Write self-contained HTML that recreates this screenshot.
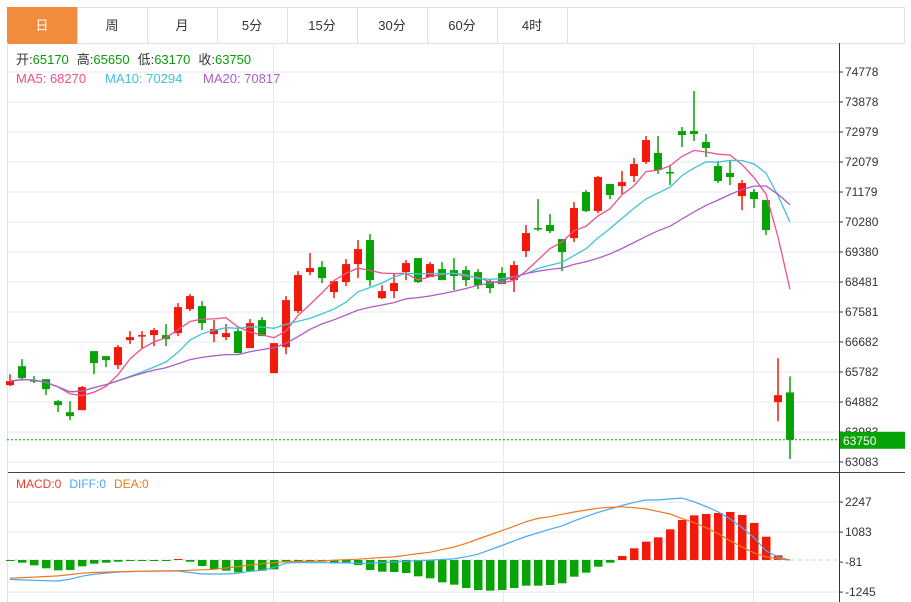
<!DOCTYPE html>
<html><head><meta charset="utf-8">
<style>
body{margin:0;background:#fff;width:911px;height:602px;overflow:hidden;font-family:"Liberation Sans","Noto Sans CJK SC",sans-serif;}
svg{display:block}
</style></head>
<body>
<svg id="chart" width="911" height="602" xmlns="http://www.w3.org/2000/svg" font-family="Liberation Sans, Noto Sans CJK SC, sans-serif">
  <g>
    <rect x="7.5" y="7.5" width="897" height="36" fill="#fff" stroke="#dde3e8"/>
    <g><rect x="7.5" y="7.5" width="70" height="36" fill="#f28c3c" stroke="#f28c3c"/><text x="42" y="30" text-anchor="middle" font-size="13" fill="#fff">日</text></g>
    <g><rect x="77.5" y="7.5" width="70" height="36" fill="#fff" stroke="#dde3e8"/><text x="112" y="30" text-anchor="middle" font-size="13" fill="#333">周</text></g>
    <g><rect x="147.5" y="7.5" width="70" height="36" fill="#fff" stroke="#dde3e8"/><text x="182" y="30" text-anchor="middle" font-size="13" fill="#333">月</text></g>
    <g><rect x="217.5" y="7.5" width="70" height="36" fill="#fff" stroke="#dde3e8"/><text x="252" y="30" text-anchor="middle" font-size="13" fill="#333">5分</text></g>
    <g><rect x="287.5" y="7.5" width="70" height="36" fill="#fff" stroke="#dde3e8"/><text x="322" y="30" text-anchor="middle" font-size="13" fill="#333">15分</text></g>
    <g><rect x="357.5" y="7.5" width="70" height="36" fill="#fff" stroke="#dde3e8"/><text x="392" y="30" text-anchor="middle" font-size="13" fill="#333">30分</text></g>
    <g><rect x="427.5" y="7.5" width="70" height="36" fill="#fff" stroke="#dde3e8"/><text x="462" y="30" text-anchor="middle" font-size="13" fill="#333">60分</text></g>
    <g><rect x="497.5" y="7.5" width="70" height="36" fill="#fff" stroke="#dde3e8"/><text x="532" y="30" text-anchor="middle" font-size="13" fill="#333">4时</text></g>
  </g>
  <g id="grid"></g>
  <g id="marks"></g>
  <g id="axis"></g>
  <g font-size="13">
    <text x="16" y="64"><tspan fill="#333">开:</tspan><tspan fill="#0a9a0a">65170</tspan><tspan fill="#333" dx="8">高:</tspan><tspan fill="#0a9a0a">65650</tspan><tspan fill="#333" dx="8">低:</tspan><tspan fill="#0a9a0a">63170</tspan><tspan fill="#333" dx="8">收:</tspan><tspan fill="#0a9a0a">63750</tspan></text>
  </g>
  <g font-size="13">
    <text x="16" y="83" fill="#f0508c">MA5: 68270</text>
    <text x="105" y="83" fill="#3fc4d8">MA10: 70294</text>
    <text x="203" y="83" fill="#b05cc8">MA20: 70817</text>
  </g>
  <g font-size="12">
    <text x="16" y="488"><tspan fill="#f03c28">MACD:0</tspan><tspan dx="8" fill="#4aa8f0">DIFF:0</tspan><tspan dx="8" fill="#f07820">DEA:0</tspan></text>
  </g>
</svg>
<script>
const opens  =[65388,65958,65538,65568,64908,64578,64638,66408,66258,65988,66738,66858,66888,66888,66948,67668,67758,66918,66828,67008,66498,67338,65748,66528,67608,68778,68928,68178,68478,69018,69738,67998,68208,68778,69198,68628,68868,68838,68838,68778,68508,68748,68538,69408,70098,70188,69768,69798,71178,70608,71418,71358,71658,72078,72348,71778,73008,73008,72678,71958,71748,71058,71178,70938,64878,65170];
const closes =[65508,65598,65508,65268,64788,64458,65328,66048,66138,66528,66828,66888,67038,66768,67728,68058,67248,67068,66948,66348,67248,66858,66648,67938,68688,68898,68598,68508,69018,69468,68538,68208,68448,69048,68478,69018,68538,68658,68538,68388,68298,68418,68988,69948,70068,70008,69378,70698,70608,71628,71088,71478,72018,72738,71838,71748,72888,72918,72498,71508,71628,71448,70968,70038,65088,63750];
const highs  =[65718,66168,65658,65568,64938,64908,65358,66408,66258,66588,67008,67008,67098,67218,67848,68118,67908,67338,67218,67098,67368,67428,66648,68058,68808,69348,69108,68508,69168,69738,69918,68388,68748,69138,69198,69078,69078,69198,68958,68868,68568,68928,69108,70188,70968,70518,69768,70878,71238,71658,71418,71808,72198,72858,72858,71988,73128,74208,72918,72108,72138,71538,71268,70938,66198,65650];
const lows   =[65358,65568,65448,65088,64578,64338,64638,65718,65928,65868,66618,66498,66558,66558,66858,67608,67038,66678,66738,66348,66498,66858,65748,66318,67548,68688,68448,67998,68358,68598,68358,67968,67998,68538,68448,68628,68538,68238,68358,68268,68148,68418,68178,69228,70008,69948,68808,69678,70578,70548,70968,71118,71478,72018,71718,71388,72528,72708,72228,71448,71388,70638,70698,69888,64308,63170];
const macdHist=[-39,-104,-207,-323,-401,-388,-246,-142,-104,-65,-39,-39,-26,-26,39,-65,-233,-349,-414,-478,-427,-414,-362,-78,-65,-65,-65,-129,-90,-194,-388,-453,-466,-505,-634,-711,-867,-957,-1086,-1164,-1190,-1164,-1086,-996,-996,-970,-905,-647,-491,-259,-104,155,453,711,879,1190,1552,1733,1785,1823,1862,1746,1436,905,181,0];
const diffVals=[-753,-772,-788,-803,-815,-745,-628,-555,-508,-466,-450,-435,-427,-427,-427,-485,-543,-543,-543,-512,-438,-399,-291,-116,-105,-105,-105,-109,-116,-124,-128,-97,-74,-54,-27,-4,19,47,124,225,396,563,741,912,1051,1195,1323,1517,1684,1847,1982,2114,2235,2328,2328,2371,2402,2258,2080,1870,1599,1261,869,357,116,0];
const deaVals=[-706,-683,-664,-640,-617,-566,-512,-485,-469,-454,-446,-438,-430,-423,-415,-400,-380,-361,-310,-256,-198,-144,-105,-66,-58,-50,-43,-8,12,31,66,97,120,182,248,299,404,504,644,815,978,1141,1308,1486,1614,1680,1773,1862,1936,2010,2041,2065,2029,1983,1886,1785,1607,1455,1254,1028,749,508,275,128,43,0];
const priceTicks=[74778,73878,72979,72079,71179,70280,69380,68481,67581,66682,65782,64882,63983,63083];
const macdTicks=[2247,1083,-81,-1245];
const lastPrice=63750;

const NS="http://www.w3.org/2000/svg";
const xOf=i=>10+12*i;
const yP=v=>72+(74778-v)/29.987;
const yM=v=>560-v/38.8;
function mk(tag,attrs,parent){const e=document.createElementNS(NS,tag);for(const k in attrs)e.setAttribute(k,attrs[k]);parent.appendChild(e);return e;}
const grid=document.getElementById('grid'),marks=document.getElementById('marks'),axis=document.getElementById('axis');
const GC="#e3ebf2";
priceTicks.forEach(t=>{const l=mk('line',{x1:7,x2:839,y1:yP(t),y2:yP(t),stroke:GC},grid);

});
[273,503,753].forEach(x=>{const l=mk('line',{x1:x+.5,x2:x+.5,y1:44,y2:472,stroke:GC},grid);

});
[273,503,753].forEach(x=>{const l=mk('line',{x1:x+.5,x2:x+.5,y1:473,y2:602,stroke:GC},grid);

});
macdTicks.forEach(t=>{if(t===-81)return;const l=mk('line',{x1:7,x2:839,y1:yM(t),y2:yM(t),stroke:GC},grid);

});
mk('line',{x1:7,x2:905,y1:472.5,y2:472.5,stroke:"#444"},grid);
mk('line',{x1:7.5,x2:7.5,y1:43,y2:602,stroke:"#dde3e8"},grid);
mk('line',{x1:7,x2:839,y1:560,y2:560,stroke:"#b8dce8","stroke-dasharray":"4,3"},grid);
for(let i=0;i<opens.length;i++){
  const up=closes[i]>=opens[i];const c=up?"#f21a0a":"#07a307";const x=xOf(i);
  const g=mk('g',{},marks);
  
  
  mk('line',{x1:x,x2:x,y1:yP(highs[i]),y2:yP(lows[i]),stroke:c,"stroke-width":1.5},g);
  const top=yP(Math.max(opens[i],closes[i])),bot=yP(Math.min(opens[i],closes[i]));
  mk('rect',{x:x-4,y:top,width:8,height:Math.max(1.5,bot-top),fill:c},g);
}
function ma(n){return closes.map((_,i)=>{const s=Math.max(0,i-n+1);let a=0;for(let k=s;k<=i;k++)a+=closes[k];return a/(i-s+1);});}
[[5,"#f0508c","ma5-line"],[10,"#3fc4d8","ma10-line"],[20,"#b05cc8","ma20-line"]].forEach(([n,c,name])=>{
  const m=ma(n);const p=mk('polyline',{points:m.map((v,i)=>xOf(i)+","+yP(v).toFixed(1)).join(" "),fill:"none",stroke:c,"stroke-width":1.3},marks);
  
  
});
const lp=mk('line',{x1:7,x2:839,y1:yP(lastPrice),y2:yP(lastPrice),stroke:"#07a307","stroke-dasharray":"2,2"},marks);


for(let i=0;i<macdHist.length;i++){
  const v=macdHist[i];if(v===0)continue;const y0=yM(0),y1=yM(v);
  const r=mk('rect',{x:xOf(i)-4,y:Math.min(y0,y1),width:8.5,height:Math.max(1,Math.abs(y1-y0)),fill:v>0?"#f21a0a":"#07a307"},marks);
  
  
}
[[diffVals,"#4aa8f0","diff-line"],[deaVals,"#f07820","dea-line"]].forEach(([arr,c,name])=>{
  const p=mk('polyline',{points:arr.map((v,i)=>xOf(i)+","+yM(v).toFixed(1)).join(" "),fill:"none",stroke:c,"stroke-width":1.2},marks);
  
  
});
mk('line',{x1:839.5,x2:839.5,y1:43,y2:602,stroke:"#333"},axis);
priceTicks.forEach(t=>{const y=yP(t);mk('line',{x1:839,x2:843,y1:y,y2:y,stroke:"#333"},axis);
 const tx=mk('text',{x:845,y:y+4,"font-size":12,fill:"#333"},axis);tx.textContent=t;
 
 });
macdTicks.forEach(t=>{const y=yM(t);mk('line',{x1:839,x2:843,y1:y,y2:y,stroke:"#333"},axis);
 const tx=mk('text',{x:845,y:y+4,"font-size":12,fill:"#333"},axis);tx.textContent=t;
 
 });
const box=mk('rect',{x:840,y:yP(lastPrice)-8,width:65,height:17,fill:"#07a307"},axis);


const bt=mk('text',{x:843,y:yP(lastPrice)+5,"font-size":12,fill:"#fff"},axis);bt.textContent=lastPrice;


</script>
</body></html>
